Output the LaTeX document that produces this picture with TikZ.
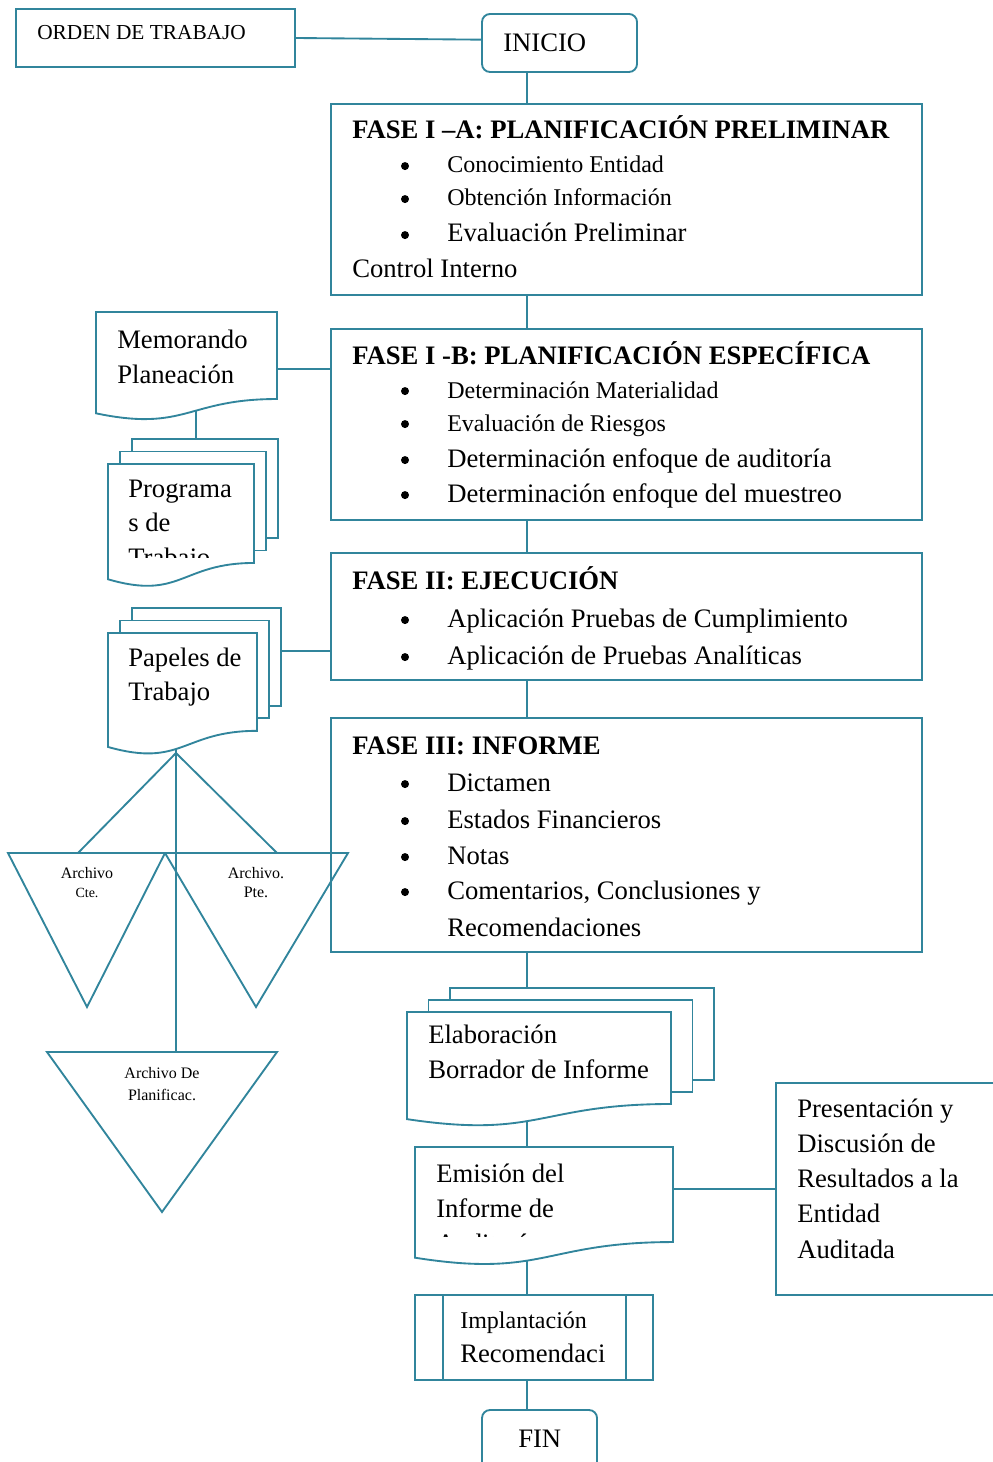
\documentclass[tikz,border=0pt]{standalone}
\usepackage{fontspec}
\setmainfont{Liberation Serif}
\usetikzlibrary{fit,backgrounds}
\definecolor{azulv}{RGB}{49,133,156}

\tikzset{
	linea/.style={draw=azulv, line width=1.4pt},
	caja/.style={linea, rectangle, inner sep=0pt},
	redondo/.style={caja, rounded corners=6pt},
	marco/.style={inner sep=0pt},
	txt/.style={anchor=base west, inner sep=0pt, font=\fontsize{20}{24}\selectfont},
	txtp/.style={txt, font=\fontsize{18}{22}\selectfont},
	titulo/.style={txt, font=\fontsize{20}{24}\selectfont\bfseries},
	bala/.style={circle, fill=black, inner sep=0pt, minimum size=6pt, yshift=5.2pt},
	etiq/.style={anchor=base, inner sep=0pt, font=\fontsize{12}{14}\selectfont},
}

% hoja con borde ondulado: nombre, x1, y1, x2, alto
\newcommand{\hoja}[5]{%
	\draw[linea, fill=white] (#2,#3) -- (#4,#3) -- (#4,{#3+0.802*#5})
		.. controls ({(#2+#4)/2},{#3+0.802*#5}) and ({(#2+#4)/2},{#3+1.107*#5}) .. (#2,{#3+0.934*#5}) -- cycle;
	\node[marco, fit={(#2,#3) (#4,{#3+1.05*#5})}] (#1) {};
}
% varias hojas: nombre, x1, y1, x2, alto, dx, dy
\newcommand{\pila}[7]{%
	\draw[linea, fill=white] ({#2+2*#6},{#3-2*#7}) rectangle ({#4+2*#6},{#3-2*#7+0.802*#5});
	\node[marco, fit={({#2+2*#6},{#3-2*#7}) ({#4+2*#6},{#3-2*#7+0.802*#5})}] (#1-atras) {};
	\draw[linea, fill=white] ({#2+#6},{#3-#7}) rectangle ({#4+#6},{#3-#7+0.802*#5});
	\hoja{#1}{#2}{#3}{#4}{#5}
}

\begin{document}
\begin{tikzpicture}[x=0.75pt, y=-0.75pt]
	\useasboundingbox (0,0) rectangle (992,1462);
	\coordinate (eje) at (527,0);
	\coordinate (ejeizq) at (196,0);
	
	% inicio
	\node[caja, fit={(16,9) (295,67)}] (orden) {};
	\node[txt, font=\fontsize{16}{18}\selectfont] (orden-t) at (37,40) {ORDEN DE TRABAJO};
	\node[redondo, fit={(482,14) (637,72)}] (inicio) {};
	\node[txt] (inicio-t) at (503,52) {INICIO};
	
	% fase I-A
	\node[caja, fit={(331,104) (922,295)}] (f1a) {};
	\node[titulo] (f1a-t) at (352,139) {FASE I –A: PLANIFICACIÓN PRELIMINAR};
	\foreach \y/\lin [count=\i] in {173/Conocimiento Entidad, 206/Obtención Información} {
		\node[bala] (f1a-b\i) at (405,\y) {};
		\node[txtp] (f1a-i\i) at (447,\y) {\lin};
	}
	\node[bala] (f1a-b3) at (405,242) {};
	\node[txt] (f1a-i3) at (447,242) {Evaluación Preliminar};
	\node[txt] (f1a-i4) at (352,277) {Control Interno};
	
	% fase I-B
	\node[caja, fit={(331,329) (922,520)}] (f1b) {};
	\node[titulo] (f1b-t) at (352,364) {FASE I -B: PLANIFICACIÓN ESPECÍFICA};
	\foreach \y/\lin [count=\i] in {398/Determinación Materialidad, 431/Evaluación de Riesgos} {
		\node[bala] (f1b-b\i) at (405,\y) {};
		\node[txtp] (f1b-i\i) at (447,\y) {\lin};
	}
	\foreach \y/\lin [count=\i from 3] in {467/Determinación enfoque de auditoría, 502/Determinación enfoque del muestreo} {
		\node[bala] (f1b-b\i) at (405,\y) {};
		\node[txt] (f1b-i\i) at (447,\y) {\lin};
	}
	
	% fase II
	\node[caja, fit={(331,553) (922,680)}] (f2) {};
	\node[titulo] (f2-t) at (352,589) {FASE II: EJECUCIÓN};
	\foreach \y/\lin [count=\i] in {627/Aplicación Pruebas de Cumplimiento, 664/Aplicación de Pruebas Analíticas} {
		\node[bala] (f2-b\i) at (405,\y) {};
		\node[txt] (f2-i\i) at (447,\y) {\lin};
	}
	
	% fase III
	\node[caja, fit={(331,718) (922,952)}] (f3) {};
	\node[titulo] (f3-t) at (352,754) {FASE III: INFORME};
	\foreach \y/\lin [count=\i] in {791/Dictamen, 828/Estados Financieros, 864/Notas, 899/{Comentarios, Conclusiones y}} {
		\node[bala] (f3-b\i) at (405,\y) {};
		\node[txt] (f3-i\i) at (447,\y) {\lin};
	}
	\node[txt] (f3-i5) at (447,936) {Recomendaciones};
	
	% documentos de la izquierda
	\hoja{memo}{96}{312}{277}{108.5}
	\foreach \lin [count=\i] in {Memorando, Planeación}
		\node[txt] (memo-\i) at (117,{348+35*(\i-1)}) {\lin};
	\pila{prog}{108}{464}{254}{123.4}{12}{12.5}
	\begin{scope}
		\clip (100,460) rectangle (260,557);
		\foreach \lin [count=\i] in {Programa, s de, Trabajo}
			\node[txt] (prog-\i) at (128,{497+34.5*(\i-1)}) {\lin};
	\end{scope}
	\pila{pap}{108}{633}{257}{122}{12}{12.5}
	\foreach \lin [count=\i] in {Papeles de, Trabajo}
		\node[txt] (pap-\i) at (128,{666+34*(\i-1)}) {\lin};
	
	% archivos
	\coordinate (vertice) at (176,753);
	\coordinate (acte) at (78,853);
	\coordinate (apte) at (277,853);
	\coordinate (aplan) at (176,1052);
	\draw[linea] (8,853) -- (165,853) -- (87,1007) -- cycle;
	\draw[linea] (165,853) -- (348,853) -- (256,1007) -- cycle;
	\draw[linea] (47,1052) -- (277,1052) -- (162,1212) -- cycle;
	\node[etiq] (acte-1) at (87,878) {Archivo};
	\node[etiq, font=\fontsize{10.5}{12}\selectfont] (acte-2) at (87,897) {Cte.};
	\node[etiq] (apte-1) at (256,878) {Archivo.};
	\node[etiq] (apte-2) at (256,897) {Pte.};
	\node[etiq] (aplan-1) at (162,1078) {Archivo De};
	\node[etiq] (aplan-2) at (162,1100) {Planificac.};
	
	% parte de abajo
	\pila{elab}{407}{1012}{671}{114.7}{21.5}{12}
	\foreach \lin [count=\i] in {Elaboración, Borrador de Informe}
		\node[txt] (elab-\i) at (428,{1043+35*(\i-1)}) {\lin};
	\hoja{emis}{415}{1147}{673}{118.5}
	\begin{scope}
		\clip (410,1140) rectangle (680,1236);
		\foreach \lin [count=\i] in {Emisión del, Informe de, Auditoría}
			\node[txt] (emis-\i) at (436,{1182+35*(\i-1)}) {\lin};
	\end{scope}
	\node[caja, fit={(776,1083) (1010,1295)}] (pres) {};
	\foreach \lin [count=\i] in {Presentación y, Discusión de, Resultados a la, Entidad, Auditada}
		\node[txt] (pres-\i) at (797,{1117+35.25*(\i-1)}) {\lin};
	\node[caja, fit={(415,1295) (653,1380)}] (impl) {};
	\draw[linea] (impl.north west) ++(29,0) -- ++(0,85);
	\draw[linea] (impl.north east) ++(-28,0) -- ++(0,85);
	\node[txtp] (impl-1) at (460,1328) {Implantación};
	\node[txt] (impl-2) at (460,1362) {Recomendaci};
	\node[redondo, fit={(482,1410) (597,1480)}] (fin) {};
	\node[txt] (fin-t) at (518,1447) {FIN};
	
	% lineas
	\begin{scope}[on background layer]
		\draw[linea] (orden.east) -- ([yshift=2.5pt]inicio.west);
		\draw[linea] (inicio.south -| eje) -- (f1a.north -| eje);
		\draw[linea] (f1a.south -| eje) -- (f1b.north -| eje);
		\draw[linea] (f1b.south -| eje) -- (f2.north -| eje);
		\draw[linea] (f2.south -| eje) -- (f3.north -| eje);
		\draw[linea] (f3.south -| eje) -- (elab-atras.north -| eje);
		\draw[linea] (elab.center -| eje) -- (emis.center -| eje);
		\draw[linea] (emis.center -| eje) -- (impl.north -| eje);
		\draw[linea] (impl.south -| eje) -- (fin.north -| eje);
		\draw[linea] (pres.west -| emis.east) -- (pres.west);
		\draw[linea] (memo.east) -- (memo.east -| f1b.west);
		\draw[linea] (memo.center -| ejeizq) -- (prog-atras.north -| ejeizq);
		\draw[linea] ([yshift=-26pt]f2.west) -- ([yshift=-26pt]f2.west -| pap.center);
		\draw[linea] (vertice) -- (acte);
		\draw[linea] (vertice) -- (apte);
		\draw[linea] (vertice |- pap.center) -- (aplan);
	\end{scope}
\end{tikzpicture}
\end{document}
